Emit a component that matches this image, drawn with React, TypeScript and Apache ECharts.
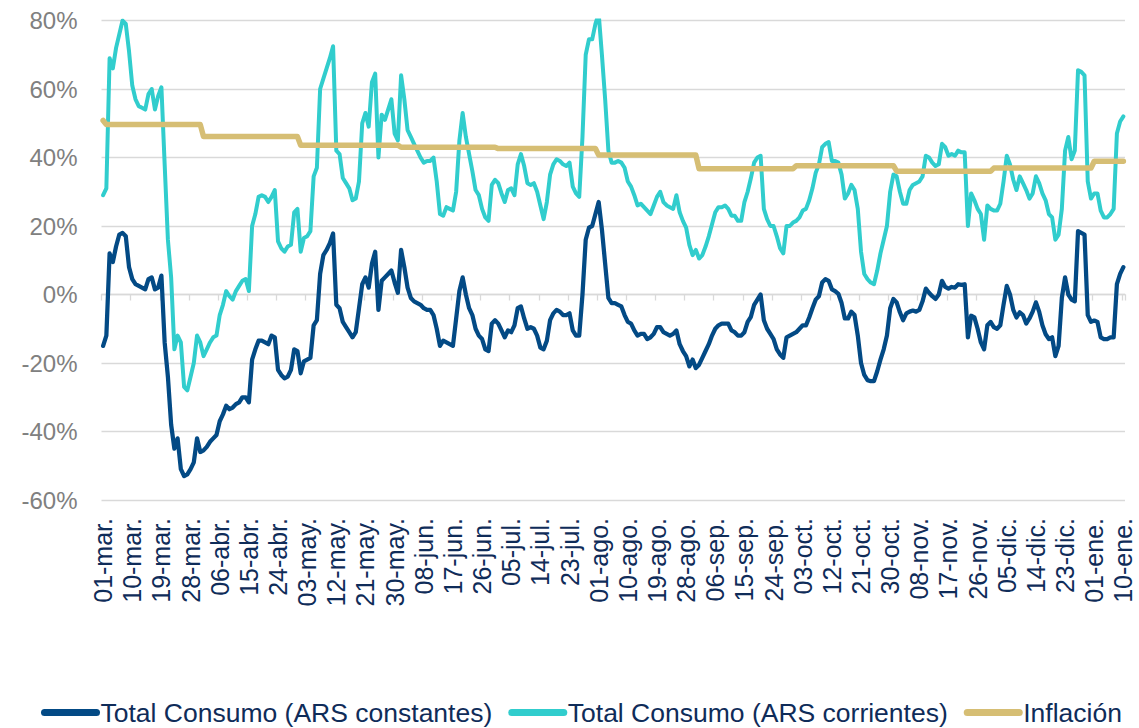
import React, { useEffect, useRef } from "react";
import * as echarts from "echarts";

const monthNames = ["mar", "abr", "may", "jun", "jul", "ago", "sep", "oct", "nov", "dic", "ene"];
const monthDays = [31, 30, 31, 30, 31, 31, 30, 31, 30, 31, 10];
const categories: string[] = [];
monthNames.forEach((m, k) => {
  for (let d = 1; d <= monthDays[k]; d++) categories.push(`${String(d).padStart(2, "0")}-${m}.`);
});

const yTickMin = -60;
const yTickMax = 80;
const yTickStep = 20;

const constantes = [
  -15, -12, 12, 9.5, 14, 17.5, 18, 17, 8, 4.5, 3, 2.5, 2, 1.5, 4.5, 5, 1.5, 2, 5.5, -14,
  -24, -38, -45, -42, -51, -53, -52.5, -51, -49, -42, -46, -45.5, -44.5, -43, -42, -41, -37, -35, -32.5, -33.5,
  -33, -32, -31.5, -30, -30, -31.5, -19, -16, -13.5, -13.5, -14, -14.5, -12, -12.5, -22, -23.5, -24.5, -24, -22, -16,
  -16.5, -23, -19.5, -19, -18.5, -9, -7.5, 6, 11.5, 13, 15, 17.8, -3, -4, -8, -9.5, -11, -12.5, -11, -4,
  3, 5, 2, 9, 12.5, -4.5, 4, 5, 6, 7, 3.5, 0.5, 13, 8, 2, -1, -2, -2.5, -3, -4,
  -4.5, -4.5, -6, -10, -15, -13.5, -14, -14.5, -15, -7, 1, 5, 0, -4, -6, -10, -12, -13, -16, -16.5,
  -8.5, -7.5, -8.5, -10.5, -12.5, -10.5, -11, -9, -4, -3.5, -7, -10, -9.5, -10, -12, -15.5, -16, -13.5, -7.5, -5.5,
  -4.5, -5, -6, -6, -5.5, -10.5, -12, -12, 0, 16, 19.5, 20, 23.5, 27, 19, 9, -1, -2.5, -2.5, -3,
  -3.5, -6, -8, -8.5, -10.5, -12, -11.5, -11.5, -13, -12.5, -11.5, -9.5, -9.5, -11, -11.5, -12, -11.5, -10.5, -14.5, -16.5,
  -18, -21, -19, -21.5, -20.5, -18.5, -16.5, -14.5, -12, -10, -9, -8.5, -8.5, -8.5, -10.5, -11, -12, -12, -11, -8,
  -6.5, -3, -1.5, 0, -7.5, -10, -11.5, -13, -16, -17.5, -18.5, -12.5, -12, -11.5, -11, -10, -9, -9, -6.7, -4,
  -1.5, -0.5, 3.5, 4.5, 4, 1.5, 1, 0.2, -2.5, -7, -7, -5, -6, -12, -20, -23.5, -25, -25.3, -25.3, -22.4,
  -19, -16, -12, -4, -1.3, -2.3, -5.2, -7.5, -5.5, -5, -4.7, -5, -4.5, -2, 1.7, 0.5, -0.5, -1.3, 0, 4,
  2.2, 1.7, 2.2, 2, 3, 2.8, 3, -12.5, -6.2, -6.7, -10, -14, -16, -9, -8, -9.5, -10, -9, -3, 2.5,
  0, -4.5, -6.7, -5.2, -6, -8.5, -7, -5, -2.3, -5, -9, -11.6, -13, -12.5, -18, -15, -1, 5, 0, -1.5,
  -2, 18.5, 18, 17.5, -6, -8, -7.6, -8, -12.5, -13, -13, -12.5, -12.5, 3, 6, 8,
];

const corrientes = [
  29, 31, 69, 66, 72, 76, 80, 79, 71, 61, 57, 55, 54.5, 54, 58.5, 60, 54, 58, 60.5, 38,
  16, 5, -16, -12, -14, -27, -28, -24, -20, -12, -14, -18, -16, -14, -12.5, -12, -6, -3, 1, -0.5,
  -1.5, 1, 2.5, 4, 4.5, 1, 20, 23.5, 28.5, 29, 28.5, 27, 28.5, 30.5, 15.5, 13.5, 12.5, 14, 14.5, 24,
  25, 12.5, 16.5, 17, 18.5, 34.5, 37, 60, 63, 66, 69, 72.5, 42, 41, 34, 32.5, 31, 27.5, 28, 33,
  50, 53, 49, 62, 64.5, 40, 52.5, 51, 54, 57, 47, 45, 64, 57, 48, 46, 44, 42, 40, 38.5,
  39, 39, 40, 33, 23.5, 23, 25.5, 25, 24.5, 30, 45, 53, 46, 41, 36, 30.5, 29, 25, 22.5, 21.5,
  32, 33.5, 32.5, 29.5, 27, 30.5, 31, 29, 38, 41, 37.5, 32.5, 32, 32.5, 30, 26, 22, 27, 35, 38,
  39.5, 39, 38, 37.5, 38.5, 31.5, 29.5, 28.5, 46, 70, 74.5, 74.5, 79, 82, 70, 57, 42, 38.5, 38.5, 39,
  38.5, 37, 33, 31.5, 29, 26, 26.5, 25.5, 24.5, 23.5, 26, 28.5, 30, 27, 26, 25.5, 25, 29, 24, 21.5,
  19.5, 14.5, 11.5, 13, 10.5, 11.5, 14, 17, 20.5, 24, 25.5, 25.5, 26, 25, 23, 23, 21.5, 21.5, 27, 30,
  34, 38.5, 40, 40.5, 25, 22, 20, 20, 17, 13.5, 12, 20, 20, 21, 21.5, 22.5, 24.5, 25, 27.5, 31,
  35.5, 38, 43, 44, 44.5, 39, 39, 38.5, 35, 28, 29.5, 32, 30.5, 25, 12.5, 6, 4.5, 3.5, 3, 7,
  12, 16, 20, 30, 35, 34.5, 30, 26.5, 26.5, 30.5, 32, 32.5, 33, 34.5, 40.5, 40, 38.5, 37.5, 38, 44,
  43, 40.5, 41, 40.5, 42, 41.5, 41.5, 20, 29.5, 27.5, 25, 23.5, 16, 26, 25, 24.5, 24.5, 26.5, 33, 40.5,
  38, 33.5, 30.5, 34.5, 32.5, 30.5, 28, 29.5, 34.5, 32.5, 29.5, 27.5, 23.5, 22.5, 16, 17.5, 25, 42, 46, 39.5,
  42, 65.5, 65, 64, 33, 28, 29.5, 29.5, 24.5, 22.5, 22.5, 23.5, 25, 47, 50.5, 52,
];

// Inflation: values read at the corners of its monthly steps (day index, %)
const inflacionDays = [0, 1, 30, 31, 60, 61, 91, 92, 121, 122, 152, 153, 183, 184, 213, 214, 244, 245, 274, 275, 305, 306, 315];
const inflacionVals = [50.8, 49.6, 49.6, 46.1, 46.1, 43.6, 43.6, 43.0, 43.0, 42.6, 42.6, 40.7, 40.7, 36.7, 36.7, 37.6, 37.6, 36.0, 36.0, 36.9, 36.9, 38.9, 38.9];

const seriesNames = ["Total Consumo (ARS constantes)", "Total Consumo (ARS corrientes)", "Inflación"];
const seriesColors = ["#034a85", "#31cdcd", "#d6be74"];

const FONT = "'Liberation Sans', Arial, Helvetica, sans-serif";

export default function App() {
  const ref = useRef<HTMLDivElement>(null);
  useEffect(() => {
    if (!ref.current) return;
    const chart = echarts.init(ref.current, undefined, { renderer: "svg" });
    const legendIcon = "path://M3.5,0L55.5,0A3.5,3.5,0,0,1,55.5,7L3.5,7A3.5,3.5,0,0,1,3.5,0Z";
    chart.setOption({
      animation: false,
      backgroundColor: "#ffffff",
      grid: { left: 101.5, right: 14, top: 20.5, bottom: 228, containLabel: false },
      legend: {
        left: 36,
        top: 694,
        itemWidth: 60,
        itemHeight: 7,
        itemGap: 16,
        icon: legendIcon,
        data: seriesNames,
        textStyle: { fontSize: 26.5, color: "#0f2c59", fontFamily: FONT, padding: [0, 0, 0, -5] },
      },
      xAxis: [
        {
          type: "category",
          data: categories,
          boundaryGap: true,
          position: "bottom",
          axisLine: { show: false, onZero: false },
          axisTick: { show: false },
          splitLine: { show: false },
          axisLabel: {
            interval: 8,
            rotate: 90,
            fontSize: 25,
            color: "#0f2c59",
            fontFamily: FONT,
            margin: 18,
          },
        },
        {
          type: "category",
          data: categories,
          boundaryGap: true,
          position: "bottom",
          axisLine: { show: true, onZero: true, lineStyle: { color: "#d9d9d9", width: 1.3 } },
          axisTick: { show: true, interval: 8, length: 6, lineStyle: { color: "#d9d9d9", width: 1.3 } },
          axisLabel: { show: false },
          splitLine: { show: false },
        },
      ],
      yAxis: {
        type: "value",
        min: yTickMin,
        max: yTickMax,
        interval: yTickStep,
        axisLine: { show: false },
        axisTick: { show: false },
        splitLine: { lineStyle: { color: "#d9d9d9", width: 1.3 } },
        axisLabel: {
          formatter: "{value}%",
          fontSize: 24,
          color: "#808080",
          fontFamily: FONT,
          margin: 24,
        },
      },
      series: [
        {
          name: seriesNames[0],
          type: "line",
          data: constantes,
          symbol: "none",
          lineStyle: { width: 4.25, color: seriesColors[0], cap: "round", join: "round" },
          itemStyle: { color: seriesColors[0] },
        },
        {
          name: seriesNames[1],
          type: "line",
          data: corrientes,
          symbol: "none",
          lineStyle: { width: 4, color: seriesColors[1], cap: "round", join: "round" },
          itemStyle: { color: seriesColors[1] },
        },
        {
          name: seriesNames[2],
          type: "line",
          data: inflacionDays.map((d, k) => [d, inflacionVals[k]]),
          symbol: "none",
          lineStyle: { width: 5.5, color: seriesColors[2], cap: "round", join: "round" },
          itemStyle: { color: seriesColors[2] },
        },
      ],
    });
    return () => chart.dispose();
  }, []);
  return (
    <div
      ref={ref}
      style={{ position: "fixed", left: 0, top: 0, width: 1139, height: 728, background: "#fff" }}
    />
  );
}
